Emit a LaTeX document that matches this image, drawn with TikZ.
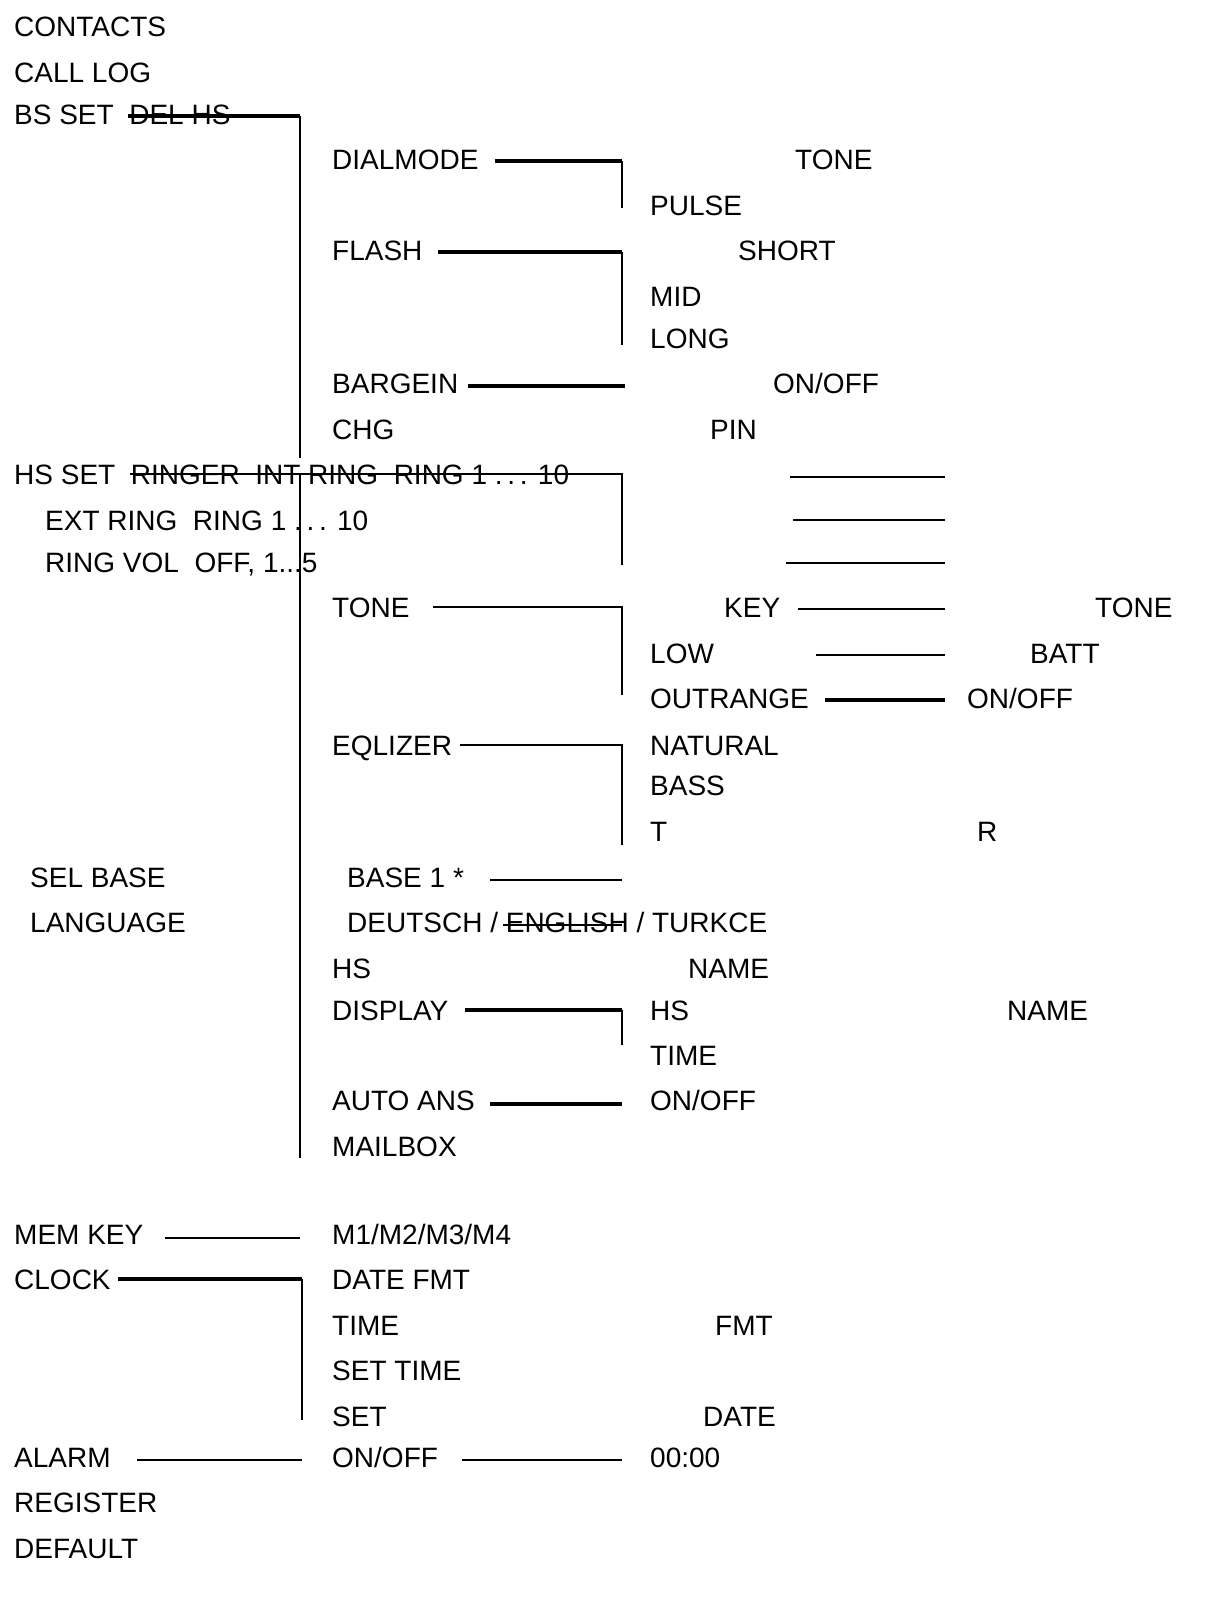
\documentclass[tikz,border=0pt]{standalone}
\usepackage{fontspec}
\setmainfont{Liberation Sans}
\newcommand\Tx[3]{\node[t] at (#1,#2+10.5) {#3};}
\begin{document}
\begin{tikzpicture}[x=1pt,y=-1pt,
 t/.style={anchor=base west,inner sep=0pt,font=\fontsize{28}{28}\selectfont},
 thn/.style={line width=1.6pt},
 thk/.style={line width=3.2pt}]
\useasboundingbox (0,0) rectangle (1207,1607);
\Tx{14}{26}{CONTACTS}
\Tx{14}{72}{CALL LOG}
\Tx{14}{114}{BS SET\ \ DEL HS}
\Tx{332}{159}{DIALMODE}
\Tx{795}{159}{TONE}
\Tx{650}{205}{PULSE}
\Tx{332}{250}{FLASH}
\Tx{738}{250}{SHORT}
\Tx{650}{296}{MID}
\Tx{650}{338}{LONG}
\Tx{332}{383}{BARGEIN}
\Tx{773}{383}{ON/OFF}
\Tx{332}{429}{CHG}
\Tx{710}{429}{PIN}
\Tx{14}{474}{HS SET\ \ RINGER\ \ INT RING\ \ RING 1 .\,.\,. 10}
\Tx{45}{520}{EXT RING\ \ RING 1 .\,.\,. 10}
\Tx{45}{562}{RING VOL\ \ OFF, 1...5}
\Tx{332}{607}{TONE}
\Tx{724}{607}{KEY}
\Tx{1095}{607}{TONE}
\Tx{650}{653}{LOW}
\Tx{1030}{653}{BATT}
\Tx{650}{698}{OUTRANGE}
\Tx{967}{698}{ON/OFF}
\Tx{332}{745}{EQLIZER}
\Tx{650}{745}{NATURAL}
\Tx{650}{785}{BASS}
\Tx{650}{831}{T}
\Tx{977}{831}{R}
\Tx{30}{877}{SEL BASE}
\Tx{347}{877}{BASE 1 *}
\Tx{30}{922}{LANGUAGE}
\Tx{347}{922}{DEUTSCH / ENGLISH / TURKCE}
\Tx{332}{968}{HS}
\Tx{688}{968}{NAME}
\Tx{332}{1010}{DISPLAY}
\Tx{650}{1010}{HS}
\Tx{1007}{1010}{NAME}
\Tx{650}{1055}{TIME}
\Tx{332}{1100}{AUTO ANS}
\Tx{650}{1100}{ON/OFF}
\Tx{332}{1146}{MAILBOX}
\Tx{14}{1234}{MEM KEY}
\Tx{332}{1234}{M1/M2/M3/M4}
\Tx{14}{1279}{CLOCK}
\Tx{332}{1279}{DATE FMT}
\Tx{332}{1325}{TIME}
\Tx{715}{1325}{FMT}
\Tx{332}{1370}{SET TIME}
\Tx{332}{1416}{SET}
\Tx{703}{1416}{DATE}
\Tx{14}{1457}{ALARM}
\Tx{332}{1457}{ON/OFF}
\Tx{650}{1457}{00:00}
\Tx{14}{1502}{REGISTER}
\Tx{14}{1548}{DEFAULT}
% BS SET
\draw[thk] (128,116) -- (300,116);
\draw[thn] (300,116) -- (300,458);
\draw[thk] (495,161) -- (622,161); \draw[thn] (622,161) -- (622,208);
\draw[thk] (438,252) -- (622,252); \draw[thn] (622,252) -- (622,345);
\draw[thk] (468,386) -- (625,386);
% HS SET
\draw[thn] (130,474) -- (622,474) -- (622,565);
\draw[thn] (300,474) -- (300,1158);
\draw[thn] (790,477) -- (945,477);
\draw[thn] (793,520) -- (945,520);
\draw[thn] (786,563) -- (945,563);
\draw[thn] (433,607) -- (622,607) -- (622,695);
\draw[thn] (798,609) -- (945,609);
\draw[thn] (816,655) -- (945,655);
\draw[thk] (825,700) -- (945,700);
\draw[thn] (460,745) -- (622,745) -- (622,845);
\draw[thn] (490,880) -- (622,880);
\draw[thn] (503,925) -- (622,925);
\draw[thk] (465,1010) -- (622,1010); \draw[thn] (622,1010) -- (622,1045);
\draw[thk] (490,1104) -- (622,1104);
\draw[thn] (165,1238) -- (300,1238);
\draw[thk] (118,1279) -- (302,1279); \draw[thn] (302,1279) -- (302,1420);
\draw[thn] (137,1460) -- (302,1460);
\draw[thn] (462,1460) -- (622,1460);
\end{tikzpicture}
\end{document}
